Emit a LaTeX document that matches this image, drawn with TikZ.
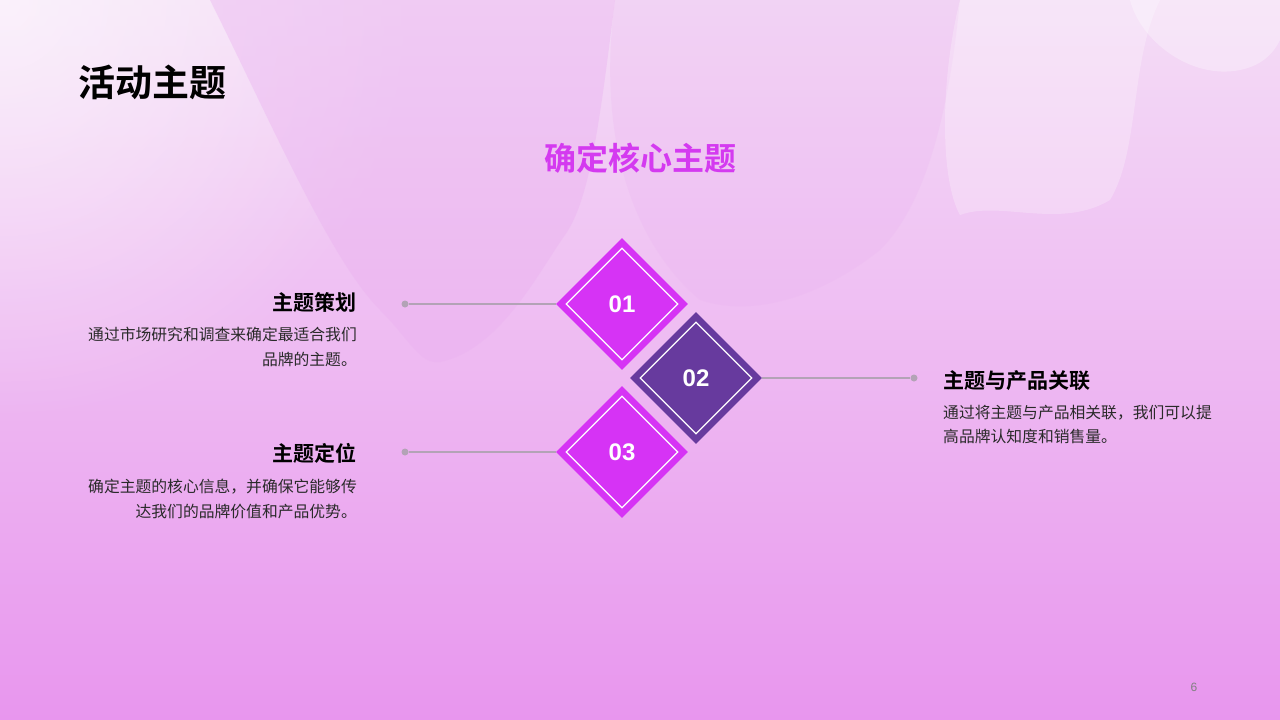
\documentclass[tikz,border=0pt]{standalone}
\usepackage{fontspec}
\setmainfont{Liberation Sans}
\newfontfamily\cjk{Noto Sans CJK SC}
\newfontfamily\cjkb{Noto Sans CJK SC Bold}
\newfontfamily\num{Liberation Sans}
\definecolor{bgtop}{HTML}{F4DDF6}
\definecolor{bgbot}{HTML}{E896EE}
\definecolor{magent}{HTML}{D633F5}
\definecolor{violet}{HTML}{673A9E}
\definecolor{ttl}{HTML}{D43AF0}
\definecolor{linec}{HTML}{B3A3B6}
\definecolor{txt}{HTML}{2A2A2A}
\definecolor{blob}{HTML}{EAB0F0}
\usetikzlibrary{shapes.geometric,fadings}
\tikzfading[name=softglow, inner color=transparent!0, outer color=transparent!100]
\tikzset{
  dia/.style={diamond,minimum width=132pt,minimum height=132pt,inner sep=0pt,draw=none,fill=#1},
  inner/.style={diamond,minimum width=112pt,minimum height=112pt,inner sep=0pt,draw=white,line width=1.2pt},
  numtxt/.style={font=\num\bfseries\fontsize{24}{28}\selectfont,text=white},
  head/.style={font=\cjkb\fontsize{21}{24}\selectfont,text=black,inner sep=0pt},
  desc/.style={font=\cjk\fontsize{15.8}{24.5}\selectfont,text=txt,inner sep=0pt},
  conn/.style={draw=linec,line width=1.6pt},
  dot/.style={circle,fill=linec,minimum size=7pt,inner sep=0pt}
}
\begin{document}
\begin{tikzpicture}[x=1pt,y=-1pt]
\useasboundingbox (0,0) rectangle (1280,720);
% background
\shade[top color=bgtop,bottom color=bgbot] (0,0) rectangle (1280,720);
\fill[white,opacity=0.6,path fading=softglow] (0,0) circle (420);
% blobs
\fill[blob,opacity=0.4] (210,0) .. controls (270,120) and (330,260) .. (380,310) .. controls (410,340) and (420,365) .. (440,362) .. controls (500,350) and (540,270) .. (565,235) .. controls (590,200) and (600,120) .. (615,0) -- cycle;
\fill[blob,opacity=0.22] (615,0) .. controls (595,150) and (640,250) .. (700,300) .. controls (760,320) and (830,290) .. (880,250) .. controls (930,200) and (950,100) .. (960,0) -- cycle;
\fill[white,opacity=0.25] (960,0) .. controls (940,80) and (940,180) .. (960,215) .. controls (1000,200) and (1060,230) .. (1110,200) .. controls (1140,150) and (1130,60) .. (1160,0) -- cycle;
\fill[white,opacity=0.3] (1130,0) .. controls (1140,40) and (1190,80) .. (1240,70) .. controls (1265,65) and (1275,50) .. (1280,40) -- (1280,0) -- cycle;
% titles
\node[anchor=west,font=\cjkb\fontsize{37}{40}\selectfont,inner sep=0pt] (title) at (78,82) {活动主题};
\node[font=\cjkb\fontsize{32}{36}\selectfont,text=ttl,inner sep=0pt] (sub) at (640,158) {确定核心主题};
% diamonds
\node[dia=magent] (d1) at (622,304) {};
\node[inner] (i1) at (d1.center) {};
\node[numtxt] (n1) at (d1.center) {01};
\node[dia=violet] (d2) at (696,378) {};
\node[inner] (i2) at (d2.center) {};
\node[numtxt] (n2) at (d2.center) {02};
\node[dia=magent] (d3) at (622,452) {};
\node[inner] (i3) at (d3.center) {};
\node[numtxt] (n3) at (d3.center) {03};
% connectors
\node[dot] (p1) at (405,304) {};
\node[dot] (p2) at (914,378) {};
\node[dot] (p3) at (405,452) {};
\draw[conn] (p1) -- (d1.west);
\draw[conn] (d2.east) -- (p2);
\draw[conn] (p3) -- (d3.west);
% left texts
\node[head,anchor=east] (h1) at (357,302) {主题策划};
\node[desc,anchor=north east,align=right] (t1) at (357,327) {通过市场研究和调查来确定最适合我们\\品牌的主题。};
\node[head,anchor=east] (h3) at (357,453) {主题定位};
\node[desc,anchor=north east,align=right] (t3) at (357,479) {确定主题的核心信息，并确保它能够传\\达我们的品牌价值和产品优势。};
% right texts
\node[head,anchor=west] (h2) at (943,381) {主题与产品关联};
\node[desc,anchor=north west,align=left] (t2) at (943,405) {通过将主题与产品相关联，我们可以提\\高品牌认知度和销售量。};
\node[font=\num\fontsize{12}{14}\selectfont,text=gray] (pg) at (1194,687) {6};
\end{tikzpicture}
\end{document}
